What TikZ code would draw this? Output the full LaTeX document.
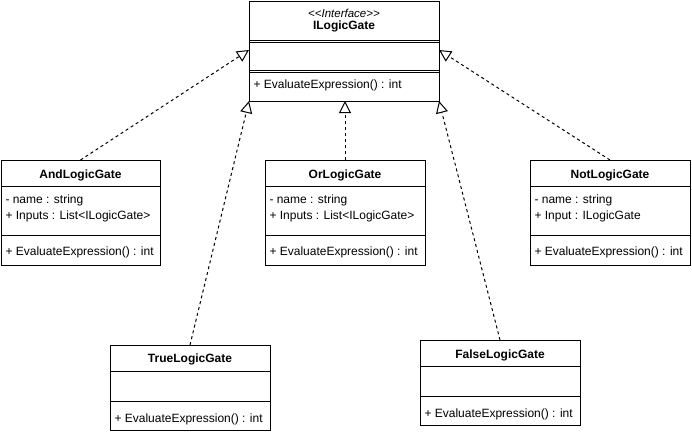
\documentclass[tikz,border=0pt]{standalone}
\usepackage{fontspec}
\setmainfont{Liberation Sans}
\usetikzlibrary{arrows.meta}
\begin{document}
\begin{tikzpicture}[x=1pt,y=-1pt, line width=1pt,
  box/.style={draw=black, fill=white, anchor=north west, inner sep=0pt, outer sep=0pt},
  ttl/.style={font=\fontsize{12}{14}\selectfont\bfseries, inner sep=0pt},
  ster/.style={font=\fontsize{11.5}{14}\selectfont\itshape, inner sep=0pt},
  txt/.style={font=\fontsize{12}{14}\selectfont, anchor=west, inner sep=0pt},
  realize/.style={dash pattern=on 3pt off 3pt, -{Triangle[open, length=12pt, width=12pt]}}
]
\useasboundingbox (0,0) rectangle (692,434);

% Interface
\node[box, minimum width=190pt, minimum height=100pt] (iface) at (249,1) {};
\draw (249,40) -- (439,40);
\draw (249,42) -- (439,42);
\draw (249,70) -- (439,70);
\draw (249,72) -- (439,72);
\node[ster] (ifS) at (344,13) {<{}<Interface>{}>};
\node[ttl] (ifT) at (344,26.5) {ILogicGate};
\node[txt] (ifM) at (253,85) {+ EvaluateExpression() : int};
\coordinate (tAnd) at (249,50);
\coordinate (tNot) at (439,50);
\coordinate (tTrue) at (249,101);
\coordinate (tOr) at (345,101);
\coordinate (tFalse) at (439,101);

% And
\node[box, minimum width=159pt, minimum height=105pt] (and) at (1,160) {};
\draw (1,186) -- (160,186);
\draw (1,235) -- (160,235);
\node[ttl] (andT) at (80.5,175.5) {AndLogicGate};
\node[txt] (andA1) at (5,200) {- name : string};
\node[txt] (andA2) at (5,216) {+ Inputs : List<ILogicGate>};
\node[txt] (andM) at (5,252.5) {+ EvaluateExpression() : int};

% Or
\node[box, minimum width=160pt, minimum height=105pt] (or) at (265,160) {};
\draw (265,186) -- (425,186);
\draw (265,235) -- (425,235);
\node[ttl] (orT) at (345,175.5) {OrLogicGate};
\node[txt] (orA1) at (269,200) {- name : string};
\node[txt] (orA2) at (269,216) {+ Inputs : List<ILogicGate>};
\node[txt] (orM) at (269,252.5) {+ EvaluateExpression() : int};

% Not
\node[box, minimum width=160pt, minimum height=105pt] (not) at (530,160) {};
\draw (530,186) -- (690,186);
\draw (530,235) -- (690,235);
\node[ttl] (notT) at (610,175.5) {NotLogicGate};
\node[txt] (notA1) at (534,200) {- name : string};
\node[txt] (notA2) at (534,216) {+ Input : ILogicGate};
\node[txt] (notM) at (534,252.5) {+ EvaluateExpression() : int};

% True
\node[box, minimum width=160pt, minimum height=85pt] (true) at (110,345) {};
\draw (110,371) -- (270,371);
\draw (110,401) -- (270,401);
\node[ttl] (trueT) at (190,359) {TrueLogicGate};
\node[txt] (trueM) at (114,419) {+ EvaluateExpression() : int};

% False
\node[box, minimum width=160pt, minimum height=85pt] (false) at (420,340) {};
\draw (420,366) -- (580,366);
\draw (420,396) -- (580,396);
\node[ttl] (falseT) at (500,355) {FalseLogicGate};
\node[txt] (falseM) at (424,414) {+ EvaluateExpression() : int};

% Realizations
\draw[realize] (and.north) -- (tAnd);
\draw[realize] (not.north) -- (tNot);
\draw[realize] (or.north) -- (tOr);
\draw[realize] (true.north) -- (tTrue);
\draw[realize] (false.north) -- (tFalse);
\end{tikzpicture}
\end{document}
